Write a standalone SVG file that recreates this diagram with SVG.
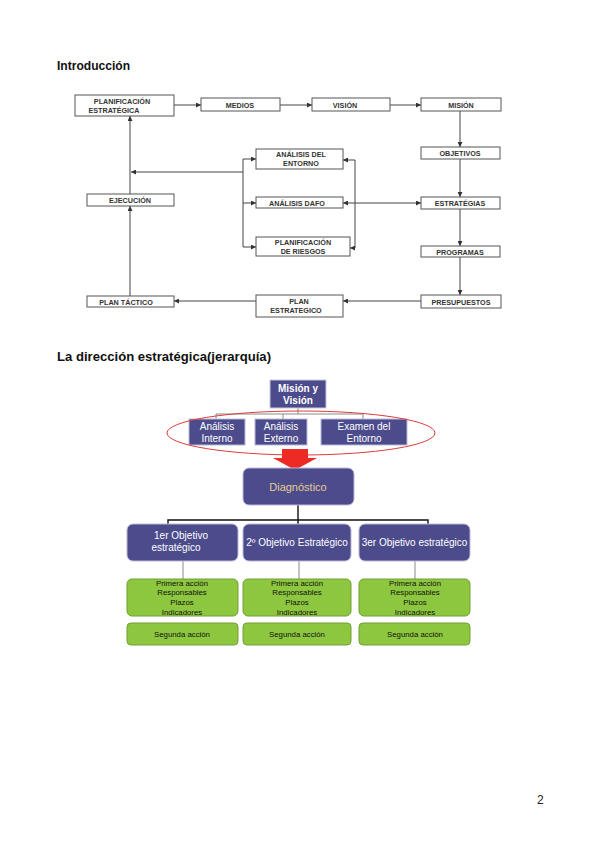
<svg xmlns="http://www.w3.org/2000/svg" width="599" height="848" viewBox="0 0 599 848">
<defs>
<marker id="ah" viewBox="0 0 6 6" refX="6" refY="3" markerWidth="5" markerHeight="5" orient="auto-start-reverse" markerUnits="userSpaceOnUse">
<path d="M0,0 L6,3 L0,6 Z" fill="#333"/>
</marker>
<style>
.t{font-family:"Liberation Sans",Arial,sans-serif;}
.bx{fill:#fff;stroke:#555;stroke-width:1;}
.lb{font-family:"Liberation Sans",Arial,sans-serif;font-size:7.2px;font-weight:bold;fill:#333;text-anchor:middle;}
.cn{stroke:#444;stroke-width:1;fill:none;}
.ar{marker-end:url(#ah);}
.pu{fill:#4c4b8c;stroke:#b9b9d6;stroke-width:1;}
.pr{fill:#4c4b8c;stroke:#c8c8dc;stroke-width:1;}
.wt{font-family:"Liberation Sans",Arial,sans-serif;font-size:10px;fill:#fff;text-anchor:middle;}
.gr{fill:#8dc63f;stroke:#72a033;stroke-width:1;}
.gt{font-family:"Liberation Sans",Arial,sans-serif;font-size:7.8px;fill:#111;text-anchor:middle;}
.tl{stroke:#8a8a8a;stroke-width:1;fill:none;}
.bl{stroke:#111;stroke-width:1.4;fill:none;}
</style>
</defs>
<rect width="599" height="848" fill="#fff"/>
<text class="t" x="57" y="70" font-size="12" font-weight="bold" fill="#111" textLength="73" lengthAdjust="spacingAndGlyphs">Introducción</text>
<text class="t" x="57" y="361" font-size="13" font-weight="bold" fill="#111" textLength="214" lengthAdjust="spacingAndGlyphs">La dirección estratégica(jerarquía)</text>
<text class="t" x="537" y="804" font-size="12" fill="#222">2</text>

<g id="connectors">
<line class="cn ar" x1="174" y1="105" x2="201" y2="105"/>
<line class="cn ar" x1="280" y1="105" x2="312" y2="105"/>
<line class="cn ar" x1="390" y1="105" x2="421" y2="105"/>
<line class="cn ar" x1="460" y1="111" x2="460" y2="147"/>
<line class="cn ar" x1="460" y1="159" x2="460" y2="197"/>
<line class="cn ar" x1="460" y1="208" x2="460" y2="246"/>
<line class="cn ar" x1="460" y1="257" x2="460" y2="295"/>
<line class="cn ar" x1="421" y1="301" x2="343" y2="301"/>
<line class="cn ar" x1="256" y1="301" x2="174" y2="301"/>
<line class="cn ar" x1="130" y1="296" x2="130" y2="206"/>
<line class="cn ar" x1="130" y1="194" x2="130" y2="116"/>
<line class="cn ar" x1="243" y1="172" x2="131" y2="172"/>
<line class="cn" x1="243" y1="159" x2="243" y2="247"/>
<line class="cn ar" x1="243" y1="159" x2="256" y2="159"/>
<line class="cn ar" x1="243" y1="203" x2="256" y2="203"/>
<line class="cn ar" x1="243" y1="247" x2="256" y2="247"/>
<line class="cn" x1="355" y1="160" x2="355" y2="248"/>
<line class="cn ar" x1="355" y1="160" x2="343" y2="160"/>
<line class="cn ar" x1="355" y1="248" x2="350" y2="248"/>
<line class="cn ar" x1="343" y1="203" x2="421" y2="203" marker-start="url(#ah)"/>
<path class="tl" d="M298,408 V414 M216,414 H363 M216,414 V419 M283,414 V419 M363,414 V419"/>
<path class="bl" d="M298,505 V520 M168,520 H428 M168,519.3 V524 M298,520 V524 M428,519.3 V524"/>
<path class="tl" d="M183,561 V579 M299,561 V579 M415,561 V579"/>
</g>

<g id="n-planificacion"><rect class="bx" x="75" y="95" width="99" height="21"/><text class="lb" x="122" y="103.5">PLANIFICACIÓN</text><text class="lb" x="114" y="113">ESTRATÉGICA</text></g>
<g id="n-medios"><rect class="bx" x="201" y="98" width="79" height="13"/><text class="lb" x="240" y="107.5">MEDIOS</text></g>
<g id="n-vision"><rect class="bx" x="312" y="98" width="78" height="13"/><text class="lb" x="345" y="107.5">VISIÓN</text></g>
<g id="n-mision"><rect class="bx" x="421" y="98" width="80" height="13"/><text class="lb" x="461" y="107.5">MISIÓN</text></g>
<g id="n-objetivos"><rect class="bx" x="421" y="147" width="79" height="12"/><text class="lb" x="460" y="156">OBJETIVOS</text></g>
<g id="n-estrategias"><rect class="bx" x="421" y="197" width="79" height="12"/><text class="lb" x="460" y="206">ESTRATÉGIAS</text></g>
<g id="n-programas"><rect class="bx" x="421" y="246" width="79" height="11"/><text class="lb" x="460" y="254.5">PROGRAMAS</text></g>
<g id="n-presupuestos"><rect class="bx" x="421" y="295" width="80" height="13"/><text class="lb" x="461" y="304.5">PRESUPUESTOS</text></g>
<g id="n-plan-estrategico"><rect class="bx" x="256" y="295" width="87" height="22"/><text class="lb" x="299" y="303.5">PLAN</text><text class="lb" x="296" y="313">ESTRATEGICO</text></g>
<g id="n-plan-tactico"><rect class="bx" x="87" y="296" width="87" height="11"/><text class="lb" x="126" y="304.5">PLAN  TÁCTICO</text></g>
<g id="n-ejecucion"><rect class="bx" x="87" y="194" width="87" height="12"/><text class="lb" x="130" y="203">EJECUCIÓN</text></g>
<g id="n-analisis-entorno"><rect class="bx" x="256" y="149" width="87" height="20"/><text class="lb" x="301" y="157">ANÁLISIS DEL</text><text class="lb" x="301" y="166">ENTORNO</text></g>
<g id="n-dafo"><rect class="bx" x="256" y="197" width="87" height="11"/><text class="lb" x="297" y="205.5">ANÁLISIS DAFO</text></g>
<g id="n-riesgos"><rect class="bx" x="256" y="237" width="94" height="19"/><text class="lb" x="303" y="244.5">PLANIFICACIÓN</text><text class="lb" x="303" y="253.5">DE RIESGOS</text></g>

<g id="n-mision-vision"><rect class="pr" x="270" y="380" width="56" height="28"/><text class="wt" x="298" y="392" font-weight="bold" font-size="10.5">Misión y</text><text class="wt" x="298" y="404" font-weight="bold" font-size="10.5">Visión</text></g>
<g id="n-interno"><rect class="pu" x="189" y="419" width="56" height="26"/><text class="wt" x="217" y="430">Análisis</text><text class="wt" x="217" y="442">Interno</text></g>
<g id="n-externo"><rect class="pu" x="255" y="419" width="52" height="26"/><text class="wt" x="281" y="430">Análisis</text><text class="wt" x="281" y="442">Externo</text></g>
<g id="n-examen"><rect class="pu" x="321" y="419" width="86" height="26"/><text class="wt" x="364" y="430">Examen del</text><text class="wt" x="364" y="442">Entorno</text></g>
<ellipse cx="301" cy="433" rx="134" ry="22" fill="none" stroke="#e23a3a" stroke-width="1"/>
<g id="red-arrow"><polygon points="282,449 308,449 308,458 317,458 295,470 273,458 282,458" fill="#ee2a24"/></g>
<g id="n-diagnostico"><rect class="pu" x="243" y="468" width="111" height="37" rx="6"/><text class="t" x="298" y="491" font-size="11" fill="#e6cc8e" text-anchor="middle">Diagnóstico</text></g>
<g id="n-obj1"><rect class="pu" x="127" y="524" width="111" height="37" rx="6"/><text class="wt" x="181" y="539">1er Objetivo</text><text class="wt" x="176" y="551">estratégico</text></g>
<g id="n-obj2"><rect class="pu" x="243" y="524" width="108" height="37" rx="6"/><text class="wt" x="297" y="546" font-size="9.6">2º Objetivo Estratégico</text></g>
<g id="n-obj3"><rect class="pu" x="359" y="524" width="111" height="37" rx="6"/><text class="wt" x="414.5" y="546" font-size="9.6">3er Objetivo estratégico</text></g>
<g id="n-acc1"><rect class="gr" x="127" y="579" width="111" height="37" rx="5"/><text class="gt" x="182" y="585.5">Primera acción</text><text class="gt" x="182" y="595">Responsables</text><text class="gt" x="182" y="605">Plazos</text><text class="gt" x="182" y="614.5">Indicadores</text></g>
<g id="n-acc2"><rect class="gr" x="243" y="579" width="108" height="37" rx="5"/><text class="gt" x="297" y="585.5">Primera acción</text><text class="gt" x="297" y="595">Responsables</text><text class="gt" x="297" y="605">Plazos</text><text class="gt" x="297" y="614.5">Indicadores</text></g>
<g id="n-acc3"><rect class="gr" x="359" y="579" width="111" height="37" rx="5"/><text class="gt" x="415" y="585.5">Primera acción</text><text class="gt" x="415" y="595">Responsables</text><text class="gt" x="415" y="605">Plazos</text><text class="gt" x="415" y="614.5">Indicadores</text></g>
<g id="n-seg1"><rect class="gr" x="127" y="623" width="111" height="22" rx="4"/><text class="gt" x="182" y="636.5">Segunda acción</text></g>
<g id="n-seg2"><rect class="gr" x="243" y="623" width="108" height="22" rx="4"/><text class="gt" x="297" y="636.5">Segunda acción</text></g>
<g id="n-seg3"><rect class="gr" x="359" y="623" width="111" height="22" rx="4"/><text class="gt" x="415" y="636.5">Segunda acción</text></g>
</svg>
